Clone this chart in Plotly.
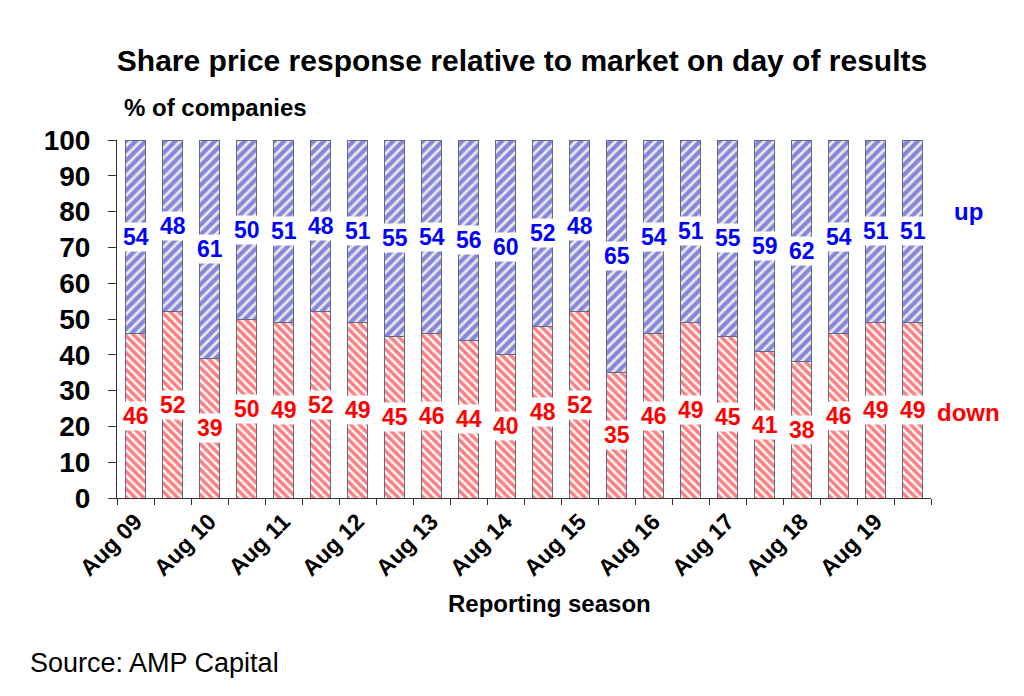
import plotly.graph_objects as go

# reporting seasons (Aug and Feb each year), only August ones get a label
seasons = [
    "Aug 09", "Feb 10", "Aug 10", "Feb 11", "Aug 11", "Feb 12", "Aug 12", "Feb 13",
    "Aug 13", "Feb 14", "Aug 14", "Feb 15", "Aug 15", "Feb 16", "Aug 16", "Feb 17",
    "Aug 17", "Feb 18", "Aug 18", "Feb 19", "Aug 19", "Feb 20",
]
tick_labels = [s if s.startswith("Aug") else "" for s in seasons]

down = [46, 52, 39, 50, 49, 52, 49, 45, 46, 44, 40, 48, 52, 35, 46, 49, 45, 41, 38, 46, 49, 49]
up = [54, 48, 61, 50, 51, 48, 51, 55, 54, 56, 60, 52, 48, 65, 54, 51, 55, 59, 62, 54, 51, 51]

FONT = "Liberation Sans, Arial, sans-serif"
RED = "#FF0000"
BLUE = "#0000FF"
OUTLINE = "#5F6B85"

# the page has an 8px body margin, so the plot box is placed 8px up/left
PLOT_L, PLOT_B, PLOT_W, PLOT_H = 117, 498, 814, 358
OFF = 8


def px_x(x):
    return (x - PLOT_L) / PLOT_W


def px_y(y):
    return (PLOT_B - y) / PLOT_H


fig = go.Figure()
fig.add_trace(go.Bar(
    x=seasons, y=down, name="down",
    marker=dict(
        color="white",
        line=dict(color=OUTLINE, width=1),
        pattern=dict(shape="\\", fgcolor=RED, bgcolor="white", size=6, solidity=0.6),
    ),
))
fig.add_trace(go.Bar(
    x=seasons, y=up, name="up",
    marker=dict(
        color="#ECEAE0",
        line=dict(color=OUTLINE, width=1),
        pattern=dict(shape="/", fgcolor="#1F1FE0", bgcolor="#ECEAE0", size=7, solidity=0.6),
    ),
))

# value labels in the middle of each segment, on a white box
for s, d, u in zip(seasons, down, up):
    fig.add_annotation(x=s, y=d / 2, text=f"<b>{d}</b>", showarrow=False,
                       font=dict(family=FONT, size=23, color=RED),
                       bgcolor="white", borderpad=1)
    fig.add_annotation(x=s, y=d + u / 2, text=f"<b>{u}</b>", showarrow=False,
                       font=dict(family=FONT, size=23, color=BLUE),
                       bgcolor="white", borderpad=1)

# series names at the right
fig.add_annotation(x=px_x(968), xref="paper", xanchor="center", y=80, yref="y",
                   text="<b>up</b>", showarrow=False,
                   font=dict(family=FONT, size=24, color=BLUE))
fig.add_annotation(x=px_x(968), xref="paper", xanchor="center", y=24, yref="y",
                   text="<b>down</b>", showarrow=False,
                   font=dict(family=FONT, size=24, color=RED))

fig.add_annotation(x=px_x(122), xref="paper", xanchor="left",
                   y=px_y(107), yref="paper", yanchor="middle",
                   text="<b>% of companies</b>", showarrow=False,
                   font=dict(family=FONT, size=24, color="black"))
fig.add_annotation(x=px_x(549), xref="paper", xanchor="center",
                   y=px_y(603), yref="paper", yanchor="middle",
                   text="<b>Reporting season</b>", showarrow=False,
                   font=dict(family=FONT, size=24, color="black"))
fig.add_annotation(x=px_x(28), xref="paper", xanchor="left",
                   y=px_y(663), yref="paper", yanchor="middle",
                   text="Source: AMP Capital", showarrow=False,
                   font=dict(family=FONT, size=27, color="black"))

fig.update_layout(
    width=1024, height=696,
    barmode="stack", bargap=0.48,
    showlegend=False,
    plot_bgcolor="white", paper_bgcolor="white",
    margin=dict(l=PLOT_L - OFF, r=1024 - PLOT_L + OFF - PLOT_W,
                t=PLOT_B - PLOT_H - OFF, b=696 - PLOT_B + OFF),
    font=dict(family=FONT, color="black"),
    title=dict(text="<b>Share price response relative to market on day of results</b>",
               x=(522 - OFF) / 1024, xanchor="center", y=1 - (60 - OFF) / 696,
               yanchor="middle", font=dict(family=FONT, size=30, color="black")),
)
fig.update_xaxes(
    type="category", tickmode="array", tickvals=seasons,
    ticktext=[f"<b>{t}</b>" if t else "" for t in tick_labels],
    tickson="boundaries", ticks="outside", ticklen=6, tickcolor="#333333",
    tickangle=-45, tickfont=dict(family=FONT, size=23, color="black"),
    showline=True, linecolor="#333333", linewidth=1, showgrid=False,
)
fig.update_yaxes(
    range=[0, 100], dtick=10, ticks="outside", ticklen=8, tickcolor="#333333",
    tickprefix="<b>", ticksuffix="</b>",
    tickfont=dict(family=FONT, size=28, color="black"), ticklabelstandoff=12,
    showline=True, linecolor="#333333", linewidth=1, showgrid=False, zeroline=False,
)

fig.write_html("out.html")
